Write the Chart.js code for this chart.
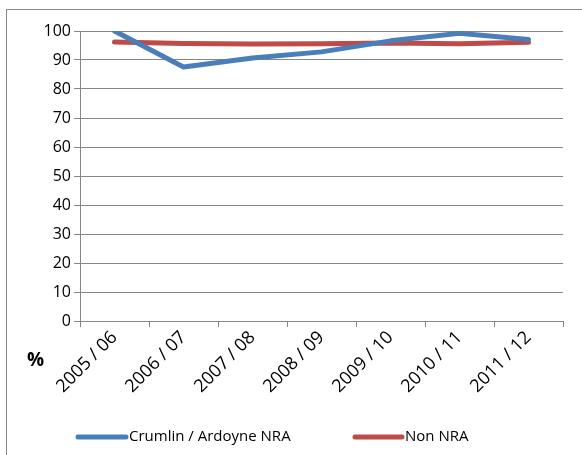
<!DOCTYPE html>
<html>
<head>
<meta charset="utf-8">
<script src="https://cdn.jsdelivr.net/npm/chart.js@4"></script>
<style>
  html, body { margin: 0; padding: 0; background: #fff; }
  #wrap { width: 582px; height: 455px; }
</style>
</head>
<body>
<div id="wrap"><canvas id="chart" width="582" height="455"></canvas></div>
<script>
const years = ['2005 / 06', '2006 / 07', '2007 / 08', '2008 / 09', '2009 / 10', '2010 / 11', '2011 / 12'];
const crumlin = [100, 87.6, 90.7, 92.8, 96.6, 99.2, 97.1];
const nonNra = [96.2, 95.7, 95.5, 95.6, 95.9, 95.6, 96.1];
const yTicks = [0, 10, 20, 30, 40, 50, 60, 70, 80, 90, 100];

const fontFamily = '"Open Sans", "Liberation Sans", sans-serif';
const gridColor = '#868686';

// outer frame, the "%" label and the legend Excel style
const extras = {
    id: 'extras',
    afterDraw(chart) {
        const ctx = chart.ctx;
        ctx.save();
        ctx.strokeStyle = '#868686';
        ctx.lineWidth = 1;
        ctx.strokeRect(6.5, 9.5, 600, 460);

        ctx.fillStyle = '#000';
        ctx.font = 'bold 19px ' + fontFamily;
        ctx.textBaseline = 'middle';
        ctx.fillText('%', 27, 361);

        const items = [
            { x: 78, len: 48 },
            { x: 355, len: 47 }
        ];
        chart.data.datasets.forEach((ds, i) => {
            const it = items[i];
            ctx.strokeStyle = ds.borderColor;
            ctx.lineWidth = 5;
            ctx.lineCap = 'round';
            ctx.beginPath();
            ctx.moveTo(it.x, 437);
            ctx.lineTo(it.x + it.len, 437);
            ctx.stroke();
            ctx.fillStyle = '#000';
            ctx.font = '15px ' + fontFamily;
            ctx.fillText(ds.label, it.x + it.len + 3, 437);
        });
        ctx.restore();
    }
};

new Chart(document.getElementById('chart'), {
    type: 'line',
    data: {
        labels: years,
        datasets: [{
            label: 'Crumlin / Ardoyne NRA',
            data: crumlin,
            borderColor: '#4a7ebb',
            borderWidth: 5
        }, {
            label: 'Non NRA',
            data: nonNra,
            borderColor: '#be4b48',
            borderWidth: 5
        }]
    },
    options: {
        responsive: false,
        animation: false,
        layout: { padding: { left: 0, right: 19, top: 31, bottom: 0 } },
        elements: {
            point: { radius: 0 },
            line: { tension: 0, borderCapStyle: 'round', borderJoinStyle: 'round' }
        },
        plugins: {
            legend: { display: false },
            tooltip: { enabled: false }
        },
        scales: {
            x: {
                offset: true,
                grid: {
                    offset: true,
                    drawOnChartArea: false,
                    color: gridColor,
                    tickLength: 6
                },
                border: { color: gridColor },
                ticks: {
                    color: '#000',
                    minRotation: 45,
                    maxRotation: 45,
                    padding: 0,
                    font: { family: fontFamily, size: 18 }
                },
                afterFit(scale) { scale.height = 455 - 321; }
            },
            y: {
                min: 0,
                max: 100,
                afterBuildTicks(scale) { scale.ticks = yTicks.map(v => ({ value: v })); },
                grid: { color: gridColor, tickLength: 6 },
                border: { color: gridColor },
                ticks: {
                    color: '#000',
                    padding: 3,
                    font: { family: fontFamily, size: 16 }
                },
                afterFit(scale) { scale.width = 80; }
            }
        }
    },
    plugins: [extras]
});
</script>
</body>
</html>
